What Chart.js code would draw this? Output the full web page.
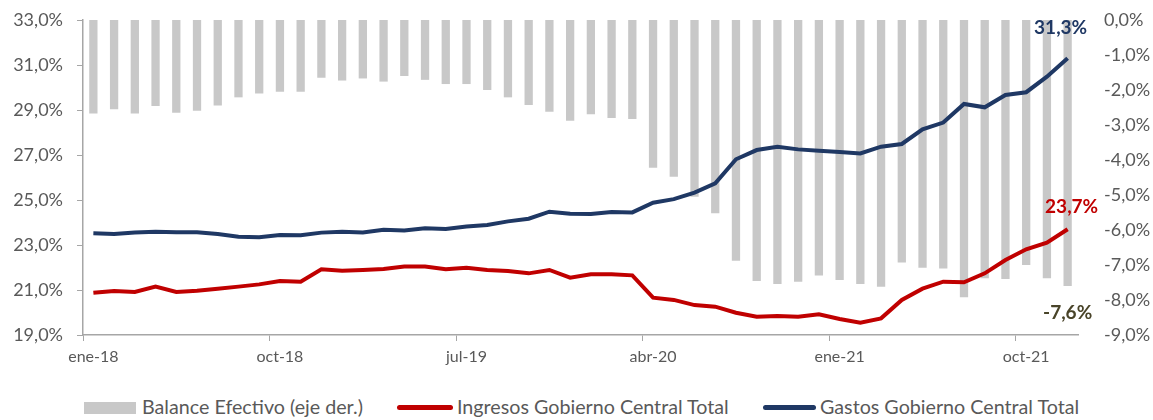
<!DOCTYPE html>
<html>
<head>
<meta charset="utf-8">
<script src="https://cdn.jsdelivr.net/npm/chart.js@4/dist/chart.umd.min.js"></script>
<style>
  html, body { margin: 0; padding: 0; background: #fff; }
  #wrap { position: relative; width: 1153px; height: 420px; overflow: hidden; }
  #c { position: absolute; left: 0; top: 0; }
  .lg { position: absolute; top: 395px; line-height: 24px; font: 19.7px Lato, "Liberation Sans", sans-serif; color: #595959; white-space: nowrap; }
  .sw { position: absolute; }
</style>
</head>
<body>
<div id="wrap">
  <canvas id="c" width="1153" height="380"></canvas>
  <div class="sw" style="left:84px;top:402px;width:52px;height:12px;background:#c8c8c8"></div>
  <div class="lg" style="left:142px">Balance Efectivo (eje der.)</div>
  <div class="sw" style="left:397px;top:405px;width:56px;height:5px;border-radius:3px;background:#c00000"></div>
  <div class="lg" style="left:457px">Ingresos Gobierno Central Total</div>
  <div class="sw" style="left:763px;top:405px;width:53px;height:5px;border-radius:3px;background:#1f3864"></div>
  <div class="lg" style="left:820px">Gastos Gobierno Central Total</div>
</div>
<script>
/* --- datos ---------------------------------------------------------- */
const meses = ['ene', 'feb', 'mar', 'abr', 'may', 'jun', 'jul', 'ago', 'sep', 'oct', 'nov', 'dic'];
const etiquetas = [];
['18', '19', '20', '21'].forEach(a => meses.forEach(m => etiquetas.push(m + '-' + a)));

// Balance efectivo (% , eje derecho)
const balance = [
  -2.67, -2.55, -2.67, -2.46, -2.65, -2.59, -2.44, -2.21, -2.10, -2.05, -2.05, -1.65,
  -1.73, -1.67, -1.76, -1.60, -1.71, -1.83, -1.83, -2.00, -2.21, -2.43, -2.62, -2.88,
  -2.69, -2.80, -2.83, -4.22, -4.48, -5.05, -5.52, -6.88, -7.46, -7.54, -7.48, -7.30,
  -7.43, -7.54, -7.62, -6.93, -7.08, -7.10, -7.92, -7.38, -7.40, -7.00, -7.38, -7.60
];
// Ingresos Gobierno Central Total (%)
const ingresos = [
  20.88, 20.96, 20.91, 21.15, 20.91, 20.97, 21.06, 21.15, 21.25, 21.40, 21.37, 21.92,
  21.86, 21.89, 21.93, 22.04, 22.04, 21.92, 21.99, 21.89, 21.84, 21.74, 21.89, 21.55,
  21.70, 21.70, 21.65, 20.66, 20.56, 20.33, 20.26, 19.99, 19.81, 19.84, 19.81, 19.92,
  19.71, 19.55, 19.74, 20.56, 21.06, 21.37, 21.34, 21.74, 22.33, 22.81, 23.10, 23.70
];
// Gastos Gobierno Central Total (%)
const gastos = [
  23.52, 23.49, 23.56, 23.59, 23.57, 23.57, 23.49, 23.37, 23.34, 23.44, 23.43, 23.55,
  23.59, 23.56, 23.68, 23.65, 23.74, 23.71, 23.82, 23.89, 24.05, 24.17, 24.48, 24.39,
  24.38, 24.47, 24.45, 24.88, 25.04, 25.33, 25.74, 26.81, 27.22, 27.37, 27.25, 27.19,
  27.13, 27.07, 27.37, 27.49, 28.14, 28.44, 29.27, 29.12, 29.67, 29.79, 30.48, 31.30
];

const AZUL = '#1f3864', ROJO = '#c00000', GRIS = '#c8c8c8', EJE = '#a6a6a6', TXT = '#595959';
const fuente = { family: 'Lato, "Liberation Sans", sans-serif', size: 18 };
const pct = v => v.toFixed(1).replace('.', ',') + '%';

/* --- etiquetas del último punto ------------------------------------- */
const ultimos = {
  id: 'ultimos',
  afterDatasetsDraw(chart) {
    const c = chart.ctx;
    const items = [
      [0, balance, '#494429', 0, 27],
      [1, ingresos, ROJO, 4, -22],
      [2, gastos, AZUL, -7, -30]
    ];
    c.save();
    c.font = 'bold 19px Lato, "Liberation Sans", sans-serif';
    c.textAlign = 'center';
    c.textBaseline = 'middle';
    items.forEach(([i, serie, col, dx, dy]) => {
      const el = chart.getDatasetMeta(i).data[serie.length - 1];
      c.fillStyle = col;
      c.fillText(pct(serie[serie.length - 1]), el.x + dx, el.y + dy);
    });
    c.restore();
  }
};

// ejes verticales: sin relleno extra arriba/abajo
const sinPad = s => { s.paddingTop = 0; s.paddingBottom = 0; };

new Chart(document.getElementById('c'), {
  data: {
    labels: etiquetas,
    datasets: [
      { type: 'bar', label: 'Balance Efectivo (eje der.)', data: balance, yAxisID: 'y2',
        backgroundColor: GRIS, barPercentage: 0.4, categoryPercentage: 1, order: 3 },
      { type: 'line', label: 'Ingresos Gobierno Central Total', data: ingresos, yAxisID: 'y',
        borderColor: ROJO, borderWidth: 4, pointRadius: 0, tension: 0, order: 2 },
      { type: 'line', label: 'Gastos Gobierno Central Total', data: gastos, yAxisID: 'y',
        borderColor: AZUL, borderWidth: 4, pointRadius: 0, tension: 0, order: 1 }
    ]
  },
  options: {
    responsive: false,
    animation: false,
    layout: { padding: { top: 20 } },
    plugins: { legend: { display: false }, tooltip: { enabled: false } },
    scales: {
      x: {
        offset: true,
        grid: {
          offset: true, drawOnChartArea: false, tickLength: 6,
          color: ctx => (ctx.index % 9 === 0 ? EJE : 'rgba(0,0,0,0)')
        },
        border: { display: true, color: EJE, width: 1.5 },
        ticks: {
          autoSkip: false, maxRotation: 0, padding: 6, color: TXT, font: { ...fuente, size: 16 },
          callback: (v, i) => (i % 9 === 0 ? etiquetas[i] : '')
        },
        afterFit: s => { s.height = 45; }
      },
      y: {
        position: 'left', min: 19, max: 33,
        grid: { drawOnChartArea: false, tickLength: 6, color: EJE },
        border: { display: true, color: EJE, width: 1.5 },
        ticks: { stepSize: 2, padding: 14, color: TXT, font: fuente, callback: v => pct(v) },
        afterFit: s => { s.width = 83; sinPad(s); }
      },
      y2: {
        position: 'right', min: -9, max: 0,
        grid: { display: false },
        border: { display: false },
        ticks: { stepSize: 1, padding: 18, color: TXT, font: fuente, callback: v => pct(v) },
        afterFit: s => { s.width = 75; sinPad(s); }
      }
    }
  },
  plugins: [ultimos]
});
</script>
</body>
</html>
